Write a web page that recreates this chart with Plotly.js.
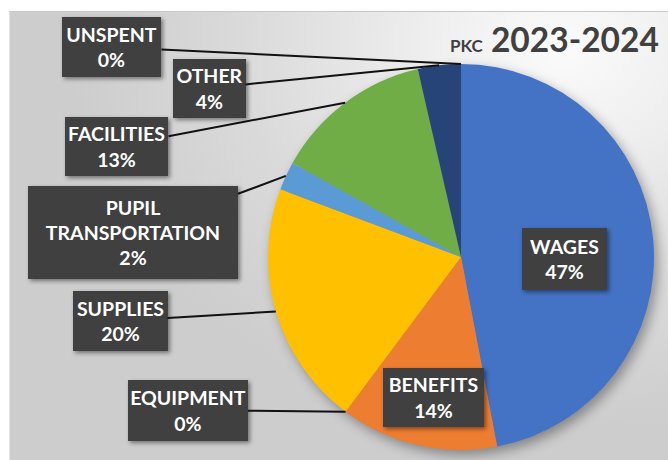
<!DOCTYPE html>
<html>
<head>
<meta charset="utf-8">
<script src="https://cdn.plot.ly/plotly-3.0.1.min.js"></script>
<style>
  html, body { margin: 0; padding: 0; background: #ffffff; }
  #wrap { position: relative; width: 668px; height: 460px; overflow: hidden; background: #ffffff; }
  #bg { position: absolute; left: 9px; top: 11px; width: 659px; height: 449px;
        border-top: 1px solid #c9c9c9; border-left: 1px solid #e4e4e4;
        background: radial-gradient(ellipse 75% 85% at 84% 8%, #fbfbfb 0%, #ededed 30%, #dadada 65%, #cdcdcd 100%); }
  #chart { position: absolute; left: 0; top: 0; width: 668px; height: 460px; }
  .pielayer .trace { filter: drop-shadow(4px 5px 6px rgba(0,0,0,0.35)); }
  .annotation rect.bg { filter: drop-shadow(2px 2px 2px rgba(0,0,0,0.45)); }
</style>
</head>
<body>
<div id="wrap"><div id="bg"></div><div id="chart"></div></div>
<script>
// ---- data ----
const categories = ['WAGES', 'BENEFITS', 'EQUIPMENT', 'SUPPLIES', 'PUPIL<br>TRANSPORTATION', 'FACILITIES', 'OTHER', 'UNSPENT'];
const shares = [47.0, 13.2, 0, 20.5, 2.4, 13.3, 3.6, 0];
const percentLabels = ['47%', '14%', '0%', '20%', '2%', '13%', '4%', '0%'];
const titlePrefix = 'PKC';
const titleYears = '2023-2024';

// ---- styling / layout constants ----
const colors = ['#4472C4', '#ED7D31', '#A5A5A5', '#FFC000', '#5B9BD5', '#70AD47', '#264478', '#9E480E'];
const W = 668, H = 460;
const cx = 461, cy = 257, R = 193;           // pie centre & radius (px)
// label box centre (px) and box size (px); leader: whether a line is drawn
const boxes = [
  {x: 564, y: 259, w: 85,  h: 62, leader: false},
  {x: 433, y: 397, w: 101, h: 59, leader: false},
  {x: 188, y: 410, w: 120, h: 61, leader: true, edge: 'start'},
  {x: 120, y: 321, w: 95,  h: 60, leader: true},
  {x: 133, y: 233, w: 210, h: 93, leader: true},
  {x: 117, y: 146, w: 103, h: 59, leader: true},
  {x: 209, y: 88,  w: 73,  h: 59, leader: true},
  {x: 112, y: 47,  w: 99,  h: 60, leader: true},
];

const total = shares.reduce((a, b) => a + b, 0);
let cum = 0;
const anchorsPx = shares.map((v, i) => {
  const start = cum / total;
  cum += v;
  const mid = (start + cum / total) / 2;
  const frac = (v === 0) ? start : mid;
  const th = 2 * Math.PI * frac;
  return {x: cx + R * Math.sin(th), y: cy - R * Math.cos(th)};
});

const labelFont = {family: 'Lato, "Open Sans", sans-serif', size: 19.5, color: '#ffffff', weight: 'bold'};

const annotations = categories.map((c, i) => {
  const b = boxes[i];
  const base = {
    text: c + '<br>' + percentLabels[i],
    font: labelFont,
    bgcolor: '#404040',
    borderpad: 0,
    borderwidth: 0,
    width: b.w,
    height: b.h,
    align: 'center',
    valign: 'middle',
    xref: 'paper', yref: 'paper',
  };
  if (b.leader) {
    const p = anchorsPx[i];
    return Object.assign(base, {
      x: p.x / W, y: 1 - p.y / H,
      showarrow: true, arrowhead: 0, arrowwidth: 2, arrowcolor: '#111111', standoff: 0,
      axref: 'pixel', ayref: 'pixel',
      ax: b.x - p.x, ay: b.y - p.y,
    });
  }
  return Object.assign(base, {x: b.x / W, y: 1 - b.y / H, showarrow: false, xanchor: 'center', yanchor: 'middle'});
});

annotations.push({
  xref: 'paper', yref: 'paper', x: 661 / W, y: 1 - 39 / H, xanchor: 'right', yanchor: 'middle',
  showarrow: false,
  text: '<span style="font-size:17px">' + titlePrefix + '</span> ' + titleYears,
  font: {family: 'Lato, "Open Sans", sans-serif', size: 33.5, color: '#404040', weight: 'bold'},
});

const trace = {
  type: 'pie',
  values: shares,
  labels: categories,
  sort: false,
  direction: 'clockwise',
  rotation: 0,
  marker: {colors: colors, line: {width: 0}},
  textinfo: 'none',
  hoverinfo: 'skip',
  showlegend: false,
  domain: {x: [(cx - R) / W, (cx + R) / W], y: [(H - cy - R) / H, (H - cy + R) / H]},
};

Plotly.newPlot('chart', [trace], {
  width: W, height: H,
  margin: {l: 0, r: 0, t: 0, b: 0},
  paper_bgcolor: 'rgba(0,0,0,0)',
  plot_bgcolor: 'rgba(0,0,0,0)',
  showlegend: false,
  annotations: annotations,
}, {displayModeBar: false, staticPlot: true});
</script>
</body>
</html>
